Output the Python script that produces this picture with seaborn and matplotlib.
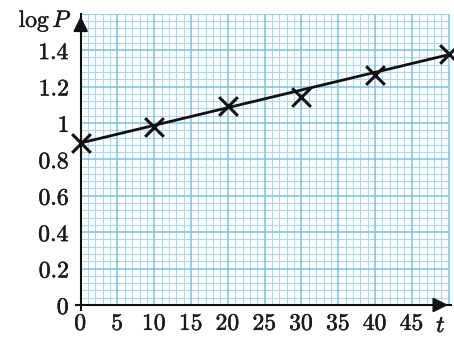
import numpy as np
import pandas as pd
import matplotlib
matplotlib.use("Agg")
import matplotlib.pyplot as plt
import matplotlib.patheffects as pe
import seaborn as sns

# ---- data ----
t_points = [0, 10, 20, 30, 40, 50]
logP_points = [0.89, 0.98, 1.095, 1.145, 1.265, 1.38]
line_t = [0, 50]
line_logP = [0.89, 1.375]
x_ticks = [0, 5, 10, 15, 20, 25, 30, 35, 40, 45]
x_tick_labels = ["0", "5", "10", "15", "20", "25", "30", "35", "40", "45"]
y_ticks = [0, 0.2, 0.4, 0.6, 0.8, 1.0, 1.2, 1.4]
y_tick_labels = ["0", "0.2", "0.4", "0.6", "0.8", "1", "1.2", "1.4"]

sns.set_theme(style="white")
plt.rcParams["mathtext.fontset"] = "cm"
plt.rcParams["font.family"] = ["DejaVu Serif"]

fig = plt.figure(figsize=(4.54, 3.40), dpi=100)
fig.patch.set_facecolor("white")
ax = fig.add_axes([0.168, 0.087, 0.825, 0.8726])
ax.set_facecolor("white")

XMAX, YMAX = 50, 1.6
ax.set_xlim(-0.6, 50.3)
ax.set_ylim(-0.03, YMAX)

# graph-paper grid
minor_c = "#a8d9ee"
major_c = "#78c2e3"
xs = np.arange(0, XMAX + 1, 1)
ys = np.round(np.arange(0, YMAX + 0.001, 0.04), 3)
ax.vlines([x for x in xs if x % 5 != 0], 0, YMAX, color=minor_c, lw=0.8, zorder=0)
ax.hlines([y for y in ys if round(y / 0.04) % 5 != 0], 0, XMAX, color=minor_c, lw=0.8, zorder=0)
ax.vlines([x for x in xs if x % 5 == 0], 0, YMAX, color=major_c, lw=1.1, zorder=0.5)
ax.hlines([y for y in ys if round(y / 0.04) % 5 == 0], 0, XMAX, color=major_c, lw=1.1, zorder=0.5)

df_line = pd.DataFrame({"t": line_t, "logP": line_logP})
df_pts = pd.DataFrame({"t": t_points, "logP": logP_points})
sns.lineplot(data=df_line, x="t", y="logP", ax=ax, color="#111111", lw=2.0, zorder=3)
sns.scatterplot(data=df_pts, x="t", y="logP", ax=ax, marker="x", s=180,
                color="#111111", linewidth=2.2, zorder=4, clip_on=False)

# spines / axes
for s in ["top", "right"]:
    ax.spines[s].set_visible(False)
ax.spines["left"].set_position(("data", 0))
ax.spines["bottom"].set_position(("data", 0))
for s in ["left", "bottom"]:
    ax.spines[s].set_color("#111111")
    ax.spines[s].set_linewidth(1.5)
    ax.spines[s].set_zorder(2)

stroke = [pe.withStroke(linewidth=0.35, foreground="#1a1a1a")]
ax.set_xticks(x_ticks)
ax.set_xticklabels(["$%s$" % s for s in x_tick_labels])
ax.set_yticks(y_ticks)
ax.set_yticklabels(["$%s$" % s for s in y_tick_labels])
ax.tick_params(axis="both", direction="out", length=5, width=1.2, color="#111111",
               labelsize=17, labelcolor="#1a1a1a", pad=3)
ax.tick_params(axis="x", pad=0)
for lab in ax.get_xticklabels() + ax.get_yticklabels():
    lab.set_path_effects(stroke)
ax.set_xlabel("")
ax.set_ylabel("")

# arrows
ax.annotate("", xy=(0, YMAX), xytext=(0, YMAX - 0.1),
            arrowprops=dict(arrowstyle="-|>", color="#111111", lw=1.5, mutation_scale=22),
            annotation_clip=False)
ax.annotate("", xy=(50.3, 0), xytext=(48.5, 0),
            arrowprops=dict(arrowstyle="-|>", color="#111111", lw=1.5, mutation_scale=22),
            annotation_clip=False)

fig.text(72 / 454, 1 - 27 / 340, r"$\log P$", ha="right", va="baseline",
         fontsize=17, color="#1a1a1a", path_effects=stroke)
fig.text(441 / 454, 1 - 332 / 340, r"$t$", ha="center", va="baseline",
         fontsize=17, color="#1a1a1a", path_effects=stroke)

fig.savefig("out.png", dpi=100, facecolor="white")
